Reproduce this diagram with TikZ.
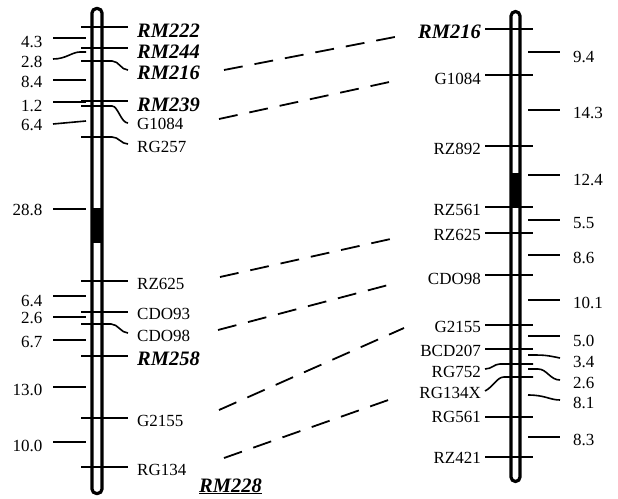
\documentclass[tikz,border=0pt]{standalone}
\usepackage{fontspec}
\setmainfont{Liberation Serif}
\tikzset{
  chrom/.style={line width=3.2pt,rounded corners=4.5pt},
  tick/.style={line width=1.6pt},
  link/.style={line width=1.8pt,dash pattern=on 19pt off 12pt},
  mk/.style={inner sep=0pt},
  rm/.style={inner sep=0pt,font=\fontsize{20.5}{22}\selectfont\bfseries\itshape}
}

\begin{document}
\begin{tikzpicture}[x=1pt,y=-1pt,font=\fontsize{17}{19}\selectfont]
  \useasboundingbox (0,0) rectangle (618,498);
  \begin{scope}
    \fill (92,208) rectangle (102,243);
    \draw[chrom] (92,8.5) rectangle (102,493.5);
    \foreach \t in {27,48,101,281,312,356,418,467} \draw[tick] (81,\t) -- (128,\t);
    \draw[tick] (81,61) -- (112,61) .. controls (119,61) and (121,70) .. (128,70);
    \draw[tick] (81,106) -- (112,106) .. controls (118,106) and (121,123) .. (128,123);
    \draw[tick] (81,137) -- (112,137) .. controls (119,137) and (121,144) .. (128,144);
    \draw[tick] (81,324) -- (111,324) .. controls (118,324) and (121,333) .. (128,333);
    \foreach \t in {38,80,102,209,296,317,340,387,442} \draw[tick] (53,\t) -- (86,\t);
    \draw[tick] (53,59) .. controls (66,59) and (72,52) .. (80,52) -- (86,52);
    \draw[tick] (53,124) .. controls (70,123) .. (86,121);
    \foreach \n/\y/\f in {RM222/31/rm,RM244/52/rm,RM216/73/rm,RM239/105/rm,G1084/124/mk,RG257/147/mk,
        RZ625/284/mk,CDO93/314/mk,CDO98/336/mk,RM258/359/rm,G2155/421/mk,RG134/470/mk}
      \node[\f,anchor=west] (l\n) at (137,\y) {\n};
    \foreach \v/\y [count=\i] in {4.3/42,2.8/62,8.4/82,1.2/106,6.4/125,28.8/210,6.4/301,2.6/318,6.7/342,13.0/390,10.0/446}
      \node[mk,anchor=east] (l\i) at (42.5,\y) {\v};
  \end{scope}
  \begin{scope}
    \fill (511,173) rectangle (520,207);
    \draw[chrom] (511,11.5) rectangle (520,481.5);
    \foreach \t in {29,75,146,207,233,275,325,349,417,457} \draw[tick] (485,\t) -- (533,\t);
    \draw[tick] (485,369) .. controls (492,369) and (494,364) .. (500,364) -- (533,364);
    \draw[tick] (485,391) .. controls (493,387) and (497,377) .. (504,377) -- (533,377);
    \foreach \t in {52,110,175,220,255,300,336,437} \draw[tick] (528,\t) -- (560,\t);
    \draw[tick] (528,355) .. controls (545,355) .. (560,358);
    \draw[tick] (528,369) -- (538,369) .. controls (547,369) and (550,380) .. (560,380);
    \draw[tick] (528,395) .. controls (545,395) and (550,400) .. (560,400);
    \foreach \n/\y/\f in {RM216/32/rm,G1084/79/mk,RZ892/149/mk,RZ561/210/mk,RZ625/235/mk,CDO98/279/mk,
        G2155/327/mk,BCD207/351/mk,RG752/372/mk,RG134X/393/mk,RG561/417/mk,RZ421/458/mk}
      \node[\f,anchor=east] (r\n) at (481,\y) {\n};
    \foreach \v/\y [count=\i] in {9.4/57,14.3/113,12.4/180,5.5/223,8.6/258,10.1/303,5.0/341,3.4/362,2.6/383,8.1/403,8.3/440}
      \node[mk,anchor=west] (r\i) at (573,\y) {\v};
  \end{scope}
  \node[rm,anchor=base west] (lRM228) at (199,492) {\underline{RM228}};
  % links between the maps
  \foreach \n/\xa/\ya/\xb/\yb in {RM216/224/70/400/36,G1084/219/119/394/81,RZ625/220/277/395/238,
      CDO98/218/330/392/284,G2155/219/410/404/328,RM228/224/458/394/398}
    {\coordinate (s\n) at (\xa,\ya); \coordinate (t\n) at (\xb,\yb); \draw[link] (s\n) -- (t\n);}
\end{tikzpicture}
\end{document}
